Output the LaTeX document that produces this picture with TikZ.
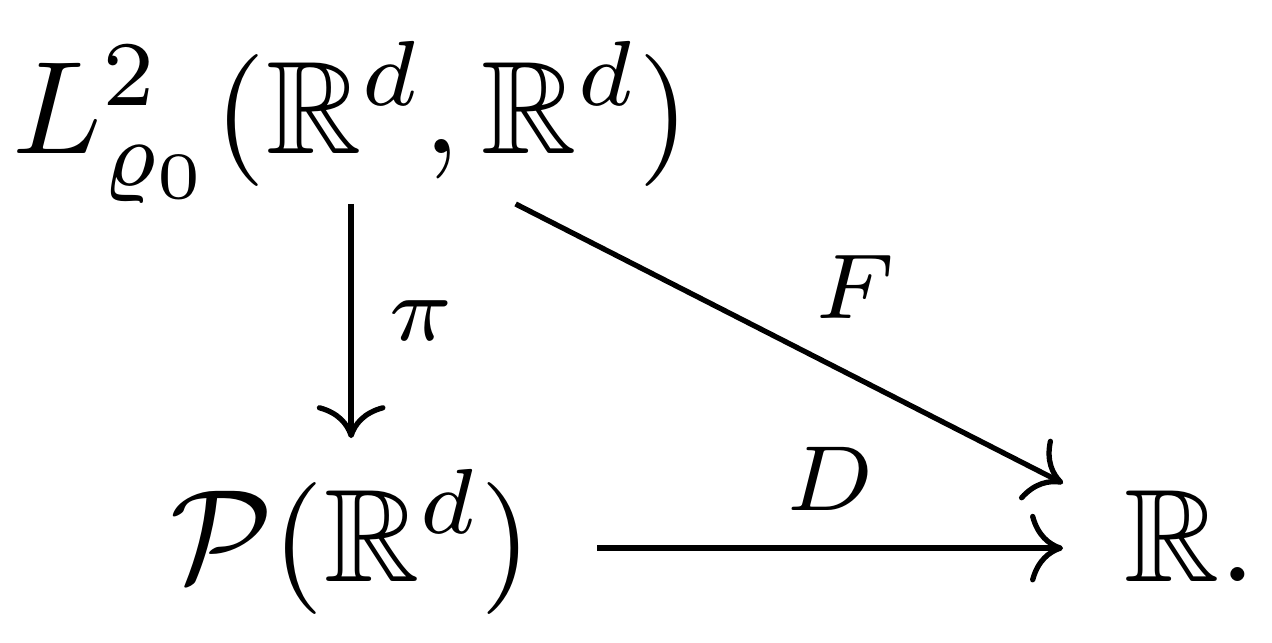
\documentclass[tikz,border=0pt]{standalone}
\usepackage{amsmath,amssymb}
\usetikzlibrary{arrows.meta,positioning}

\begin{document}
\begin{tikzpicture}[
  space/.style={inner sep=0pt, outer sep=0pt},
  upper/.style={space, text height=8.86pt, text depth=3.86pt},
  lower/.style={space, text height=10.83pt, text depth=5.83pt},
  map/.style={-{Computer Modern Rightarrow[length=2.5pt, width=5.2pt]}, line width=0.4pt},
  lbl/.style={inner sep=0pt, font=\scriptsize}
]
  \useasboundingbox (0,0) rectangle (96.36pt,-48.64pt);

  \node[upper] (L2) at (26.6pt,-9.09pt) {$L^2_{\varrho_0}(\mathbb{R}^d,\mathbb{R}^d)$};
  \node[lower, minimum width=37.3pt] (P) at (26.6pt,-41.52pt) {$\mathcal{P}(\mathbb{R}^d)$};
  \node[lower, minimum width=19.24pt] (R) at (90.15pt,-41.52pt) {$\mathbb{R}.$};

  \draw[map] (L2) -- node[lbl, right=2.65pt]{$\pi$} (P);
  \draw[map] (L2) -- node[lbl, above right=2.4pt]{$F$} (R);
  \draw[map] (P) -- node[lbl, above=2.65pt]{$D$} (R);
\end{tikzpicture}
\end{document}
